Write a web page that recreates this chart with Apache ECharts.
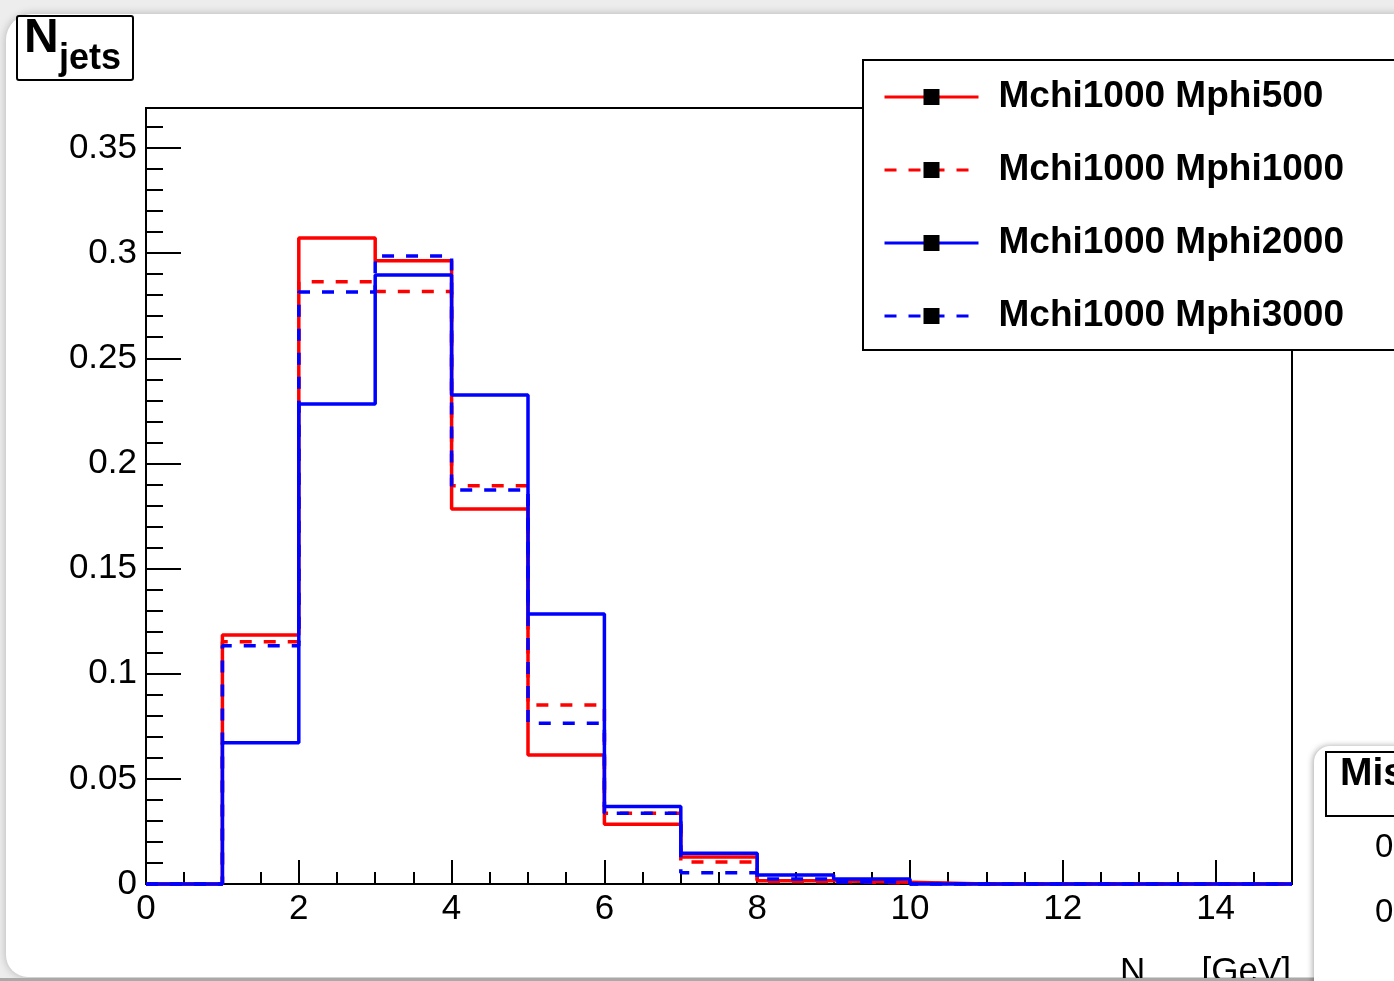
<!DOCTYPE html>
<html>
<head>
<meta charset="utf-8">
<title>N jets</title>
<script src="https://cdn.jsdelivr.net/npm/echarts@6/dist/echarts.min.js"></script>
<style>
  html, body { margin: 0; padding: 0; background: #ededed; }
  #chart { width: 1394px; height: 981px; }
</style>
</head>
<body>
<div id="chart"></div>
<script>
// Lower bin edges (width 1) of the jet-multiplicity histograms
const binEdges = [0, 1, 2, 3, 4, 5, 6, 7, 8, 9, 10, 11, 12, 13, 14];
const upperEdge = 15;

// Normalised bin contents per mass point
const mphi500  = [0, 0.1184, 0.3072, 0.2964, 0.1783, 0.0613, 0.0284, 0.0128, 0.0015, 0.0008, 0, 0, 0, 0, 0];
const mphi1000 = [0, 0.1152, 0.2864, 0.2817, 0.1894, 0.0851, 0.0336, 0.0105, 0.0012, 0.0005, 0, 0, 0, 0, 0];
const mphi2000 = [0, 0.0672, 0.2283, 0.2896, 0.2325, 0.1284, 0.0368, 0.0146, 0.0043, 0.0024, 0, 0, 0, 0, 0];
const mphi3000 = [0, 0.1133, 0.2815, 0.2986, 0.1874, 0.0764, 0.0336, 0.0053, 0.0024, 0.0010, 0, 0, 0, 0, 0];

const seriesNames = ['Mchi1000 Mphi500', 'Mchi1000 Mphi1000', 'Mchi1000 Mphi2000', 'Mchi1000 Mphi3000'];

const FONT = 'Liberation Sans, Helvetica, Arial, sans-serif';
const LINE_W = 3.5;

// Turn bin contents into step points: one per lower edge plus the closing upper edge
function histPoints(values) {
  const pts = binEdges.map((e, i) => [e, values[i]]);
  pts.push([upperEdge, values[values.length - 1]]);
  return pts;
}

function histSeries(name, values, color, dashed) {
  return {
    name: name,
    type: 'line',
    step: 'end',
    data: histPoints(values),
    showSymbol: false,
    symbol: 'rect',
    clip: false,
    itemStyle: { color: color },
    lineStyle: { color: color, width: LINE_W, type: dashed ? [12, 12] : 'solid' },
    emphasis: { disabled: true },
    animation: false
  };
}

const chart = echarts.init(document.getElementById('chart'), null, { renderer: 'canvas' });

const option = {
  animation: false,
  backgroundColor: 'transparent',
  grid: {
    left: 146, right: 102, top: 108, bottom: 97,
    show: true, borderColor: '#000', borderWidth: 2, backgroundColor: 'transparent'
  },
  xAxis: [
    {
      type: 'value', min: 0, max: upperEdge, interval: 2, position: 'bottom',
      axisLine: { show: true, onZero: false, lineStyle: { color: '#000', width: 2 } },
      axisTick: { show: true, inside: true, length: 24, lineStyle: { color: '#000', width: 2 } },
      axisLabel: { show: true, margin: 8, fontSize: 35, color: '#000', fontFamily: FONT, showMaxLabel: false },
      splitLine: { show: false }
    },
    {
      type: 'value', min: 0, max: upperEdge, interval: 0.5, position: 'bottom',
      axisLine: { show: false },
      axisTick: { show: true, inside: true, length: 12, lineStyle: { color: '#000', width: 2 } },
      axisLabel: { show: false },
      splitLine: { show: false }
    }
  ],
  yAxis: [
    {
      type: 'value', min: 0, max: 0.369, interval: 0.05, position: 'left',
      axisLine: { show: true, onZero: false, lineStyle: { color: '#000', width: 2 } },
      axisTick: { show: true, inside: true, length: 35, lineStyle: { color: '#000', width: 2 } },
      axisLabel: { show: true, margin: 9, fontSize: 35, color: '#000', fontFamily: FONT, showMaxLabel: false, padding: [4, 0, 0, 0] },
      splitLine: { show: false }
    },
    {
      type: 'value', min: 0, max: 0.369, interval: 0.01, position: 'left',
      axisLine: { show: false },
      axisTick: { show: true, inside: true, length: 17, lineStyle: { color: '#000', width: 2 } },
      axisLabel: { show: false },
      splitLine: { show: false }
    }
  ],
  legend: {
    left: 863, top: 60, orient: 'vertical',
    itemWidth: 94, itemHeight: 20, itemGap: 33,
    padding: [17, 80, 14, 20],
    backgroundColor: '#fff', borderColor: '#000', borderWidth: 2,
    selectedMode: false,
    itemStyle: { color: '#000', borderWidth: 0 },
    lineStyle: { width: 3 },
    textStyle: { fontFamily: FONT, fontWeight: 'bold', fontSize: 37, lineHeight: 40, color: '#000', padding: [0, 0, 0, 15] },
    data: seriesNames
  },
  series: [
    histSeries(seriesNames[0], mphi500, '#ff0000', false),
    histSeries(seriesNames[1], mphi1000, '#ff0000', true),
    histSeries(seriesNames[2], mphi2000, '#0000ff', false),
    histSeries(seriesNames[3], mphi3000, '#0000ff', true)
  ],
  graphic: [
    // canvas pad
    {
      type: 'rect', z: -10, silent: true,
      shape: { x: 6, y: 14, width: 1440, height: 963, r: [26, 0, 0, 22] },
      style: { fill: '#ffffff', shadowBlur: 8, shadowColor: 'rgba(0,0,0,0.25)' }
    },
    // histogram title box
    {
      type: 'rect', z: 20, silent: true,
      shape: { x: 17, y: 16, width: 116, height: 64, r: 2 },
      style: { fill: '#ffffff', stroke: '#000', lineWidth: 2 }
    },
    {
      type: 'text', z: 21, silent: true, x: 24, y: 39,
      style: { text: 'N', font: 'bold 48px ' + FONT, fill: '#000', verticalAlign: 'middle', align: 'left' }
    },
    {
      type: 'text', z: 21, silent: true, x: 59, y: 59,
      style: { text: 'jets', font: 'bold 36px ' + FONT, fill: '#000', verticalAlign: 'middle', align: 'left' }
    },
    // x axis title
    {
      type: 'text', z: 21, silent: true, x: 1120, y: 972,
      style: { text: 'N', font: '35px ' + FONT, fill: '#000', verticalAlign: 'middle', align: 'left' }
    },
    {
      type: 'text', z: 21, silent: true, x: 1291, y: 972,
      style: { text: '[GeV]', font: '35px ' + FONT, fill: '#000', verticalAlign: 'middle', align: 'right' }
    },
    // bottom window strip
    {
      type: 'rect', z: 50, silent: true,
      shape: { x: 0, y: 978, width: 1314, height: 3 },
      style: { fill: '#a9a9a9' }
    },
    // neighbouring pad
    {
      type: 'rect', z: 60, silent: true,
      shape: { x: 1314, y: 746, width: 140, height: 260, r: [16, 0, 0, 0] },
      style: { fill: '#ffffff', shadowBlur: 6, shadowOffsetX: -1, shadowColor: 'rgba(0,0,0,0.35)' }
    },
    {
      type: 'rect', z: 61, silent: true,
      shape: { x: 1326, y: 752, width: 140, height: 64 },
      style: { fill: '#ffffff', stroke: '#000', lineWidth: 2 }
    },
    {
      type: 'text', z: 62, silent: true, x: 1340, y: 774,
      style: { text: 'Missing', font: 'bold 39px ' + FONT, fill: '#000', verticalAlign: 'middle', align: 'left' }
    },
    {
      type: 'text', z: 62, silent: true, x: 1375, y: 848,
      style: { text: '0', font: '33px ' + FONT, fill: '#000', verticalAlign: 'middle', align: 'left' }
    },
    {
      type: 'text', z: 62, silent: true, x: 1375, y: 913,
      style: { text: '0', font: '33px ' + FONT, fill: '#000', verticalAlign: 'middle', align: 'left' }
    }
  ]
};

chart.setOption(option);
</script>
</body>
</html>
